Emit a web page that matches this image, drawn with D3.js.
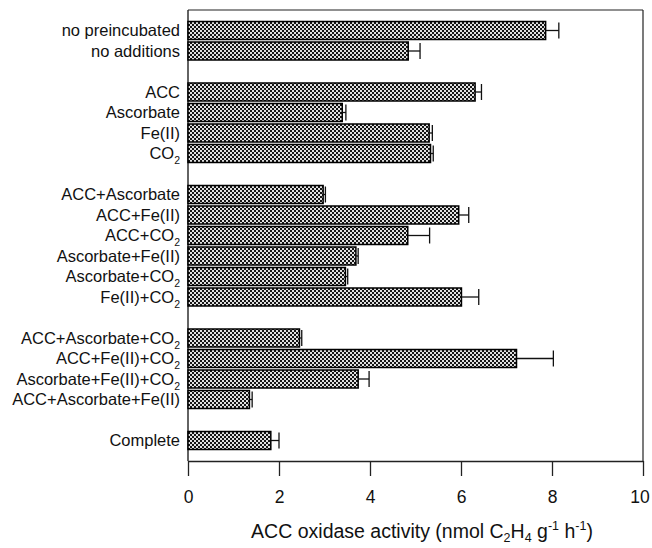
<!DOCTYPE html>
<html>
<head>
<meta charset="utf-8">
<script src="https://cdn.jsdelivr.net/npm/d3@7/dist/d3.min.js"></script>
<style>
  html, body { margin: 0; padding: 0; background: #fff; }
  svg { display: block; }
  text { font-family: "Liberation Sans", Arial, sans-serif; fill: #111; }
</style>
</head>
<body>
<svg id="chart" width="652" height="548"></svg>
<script>
// ---- data ----
const group1 = ["no preincubated", "no additions"];
const group2 = ["ACC", "Ascorbate", "Fe(II)", "CO_2"];
const group3 = ["ACC+Ascorbate", "ACC+Fe(II)", "ACC+CO_2", "Ascorbate+Fe(II)", "Ascorbate+CO_2", "Fe(II)+CO_2"];
const group4 = ["ACC+Ascorbate+CO_2", "ACC+Fe(II)+CO_2", "Ascorbate+Fe(II)+CO_2", "ACC+Ascorbate+Fe(II)"];
const group5 = ["Complete"];
const groups = [group1, group2, group3, group4, group5];

const values = [7.86, 4.84, 6.31, 3.39, 5.30, 5.33, 2.97, 5.95, 4.83, 3.69, 3.46, 6.01, 2.45, 7.22, 3.74, 1.35, 1.82];
const errors = [0.29, 0.26, 0.14, 0.08, 0.07, 0.06, 0.05, 0.22, 0.48, 0.05, 0.05, 0.38, 0.05, 0.81, 0.24, 0.06, 0.18];
const xTicks = [0, 2, 4, 6, 8, 10];

(function () {
// ---- build rows ----
const labels = groups.flat();
const rows = labels.map((l, i) => ({ label: l, value: values[i], err: errors[i] }));
const domain = [];
groups.forEach((g, gi) => {
  if (gi > 0) domain.push("gap" + gi);
  g.forEach(l => domain.push(l));
});

const svg = d3.select("#chart");
const pLeft = 188, pRight = 643, pTop = 10, pBottom = 461;

const x = d3.scaleLinear().domain([0, 10]).range([pLeft, pRight]);
const y = d3.scaleBand().domain(domain).range([pTop, pBottom]).paddingInner(0.122).paddingOuter(0.561);

// pattern
const defs = svg.append("defs");
const pat = defs.append("pattern").attr("id", "chk").attr("patternUnits", "userSpaceOnUse")
  .attr("width", 4).attr("height", 4);
pat.append("rect").attr("width", 4).attr("height", 4).attr("fill", "#e0e0e0");
pat.append("rect").attr("x", 0).attr("y", 0).attr("width", 2).attr("height", 2).attr("fill", "#151515");
pat.append("rect").attr("x", 2).attr("y", 2).attr("width", 2).attr("height", 2).attr("fill", "#151515");

// frame
const frameColor = "#222";
svg.append("line").attr("x1", pLeft).attr("x2", pRight).attr("y1", pTop).attr("y2", pTop)
  .attr("stroke", frameColor).attr("stroke-width", 1.2);
svg.append("line").attr("x1", pLeft).attr("x2", pLeft).attr("y1", pTop).attr("y2", pBottom)
  .attr("stroke", frameColor).attr("stroke-width", 1.4);
svg.append("line").attr("x1", pRight).attr("x2", pRight).attr("y1", pTop).attr("y2", pBottom)
  .attr("stroke", frameColor).attr("stroke-width", 1.2);

// axis
const ax = svg.append("g").attr("transform", `translate(0,${pBottom})`)
  .call(d3.axisBottom(x).tickValues(xTicks).tickFormat(d3.format("d")).tickSize(15).tickSizeOuter(0).tickPadding(15));
ax.select(".domain").attr("stroke", frameColor).attr("stroke-width", 1.3);
ax.selectAll(".tick line").attr("stroke", frameColor).attr("stroke-width", 1.3);
ax.selectAll(".tick text").attr("font-size", "17.5px").attr("font-family", "Liberation Sans, Arial, sans-serif").attr("fill", "#111");
ax.selectAll(".tick text").filter(d => d === 10).attr("dx", -3.5);

// bars
const bars = svg.append("g");
bars.selectAll("rect").data(rows).join("rect")
  .attr("x", x(0))
  .attr("y", d => y(d.label))
  .attr("width", d => x(d.value) - x(0))
  .attr("height", y.bandwidth())
  .attr("fill", "url(#chk)")
  .attr("stroke", "#000")
  .attr("stroke-width", 1.5);

// error bars
const eb = svg.append("g").attr("stroke", "#111").attr("stroke-width", 1.3);
rows.forEach(d => {
  const cy = y(d.label) + y.bandwidth() / 2;
  eb.append("line").attr("x1", x(d.value)).attr("x2", x(d.value + d.err)).attr("y1", cy).attr("y2", cy);
  eb.append("line").attr("x1", x(d.value + d.err)).attr("x2", x(d.value + d.err))
    .attr("y1", cy - 8).attr("y2", cy + 8);
});

// labels with subscripts
function addRich(sel, str, subSize, subDy) {
  const parts = str.split(/(_\d)/);
  parts.forEach(p => {
    if (!p) return;
    if (p[0] === "_") {
      sel.append("tspan").text(p.slice(1)).attr("font-size", subSize).attr("dy", subDy);
    } else {
      sel.append("tspan").text(p);
    }
  });
}
const lg = svg.append("g");
rows.forEach(d => {
  const t = lg.append("text")
    .attr("x", pLeft - 8)
    .attr("y", y(d.label) + y.bandwidth() / 2 + 5.5)
    .attr("text-anchor", "end")
    .attr("font-size", "16.5px");
  addRich(t, d.label, "10.5px", 5);
});

// axis title
const title = svg.append("text").attr("x", 422).attr("y", 538).attr("text-anchor", "middle").attr("font-size", "19.5px");
title.append("tspan").text("ACC oxidase activity (nmol C");
title.append("tspan").text("2").attr("font-size", "12.5px").attr("dy", 4);
title.append("tspan").text("H").attr("dy", -4);
title.append("tspan").text("4").attr("font-size", "12.5px").attr("dy", 4);
title.append("tspan").text(" g").attr("dy", -4);
title.append("tspan").text("-1").attr("font-size", "12.5px").attr("dy", -8);
title.append("tspan").text(" h").attr("dy", 8);
title.append("tspan").text("-1").attr("font-size", "12.5px").attr("dy", -8);
title.append("tspan").text(")").attr("dy", 8);
})();
</script>
</body>
</html>
